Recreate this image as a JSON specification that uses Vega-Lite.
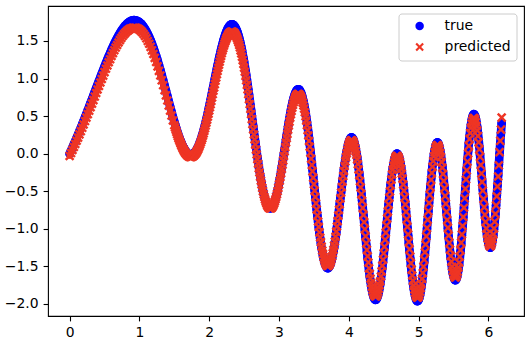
{
"$schema":"https://vega.github.io/schema/vega-lite/v6.json",
"width":476,"height":310,
"autosize":{"type":"none"},
"padding":{"left":48,"top":6,"right":4,"bottom":27},
"data":{"values":[
{"x":0,"t":0,"p":-0.03},{"x":0.02,"t":0.04,"p":0.008},{"x":0.04,"t":0.082,"p":0.049},{"x":0.06,"t":0.124,"p":0.089},{"x":0.08,"t":0.166,"p":0.129},{"x":0.1,"t":0.21,"p":0.172},{"x":0.12,"t":0.254,"p":0.214},{"x":0.14,"t":0.299,"p":0.257},{"x":0.16,"t":0.344,"p":0.3},{"x":0.18,"t":0.39,"p":0.344},
{"x":0.2,"t":0.436,"p":0.389},{"x":0.22,"t":0.483,"p":0.434},{"x":0.24,"t":0.531,"p":0.48},{"x":0.26,"t":0.579,"p":0.526},{"x":0.28,"t":0.627,"p":0.572},{"x":0.3,"t":0.676,"p":0.619},{"x":0.32,"t":0.725,"p":0.666},{"x":0.34,"t":0.774,"p":0.713},{"x":0.36,"t":0.823,"p":0.76},{"x":0.38,"t":0.872,"p":0.807},
{"x":0.4,"t":0.921,"p":0.854},{"x":0.42,"t":0.969,"p":0.9},{"x":0.44,"t":1.018,"p":0.947},{"x":0.46,"t":1.066,"p":0.993},{"x":0.48,"t":1.114,"p":1.039},{"x":0.5,"t":1.161,"p":1.085},{"x":0.52,"t":1.208,"p":1.13},{"x":0.54,"t":1.253,"p":1.173},{"x":0.56,"t":1.298,"p":1.216},{"x":0.58,"t":1.341,"p":1.257},
{"x":0.6,"t":1.384,"p":1.299},{"x":0.62,"t":1.425,"p":1.338},{"x":0.64,"t":1.465,"p":1.376},{"x":0.66,"t":1.502,"p":1.412},{"x":0.68,"t":1.538,"p":1.446},{"x":0.7,"t":1.573,"p":1.48},{"x":0.72,"t":1.605,"p":1.511},{"x":0.74,"t":1.635,"p":1.54},{"x":0.76,"t":1.662,"p":1.566},{"x":0.78,"t":1.687,"p":1.59},
{"x":0.8,"t":1.709,"p":1.611},{"x":0.82,"t":1.728,"p":1.629},{"x":0.84,"t":1.744,"p":1.644},{"x":0.86,"t":1.757,"p":1.657},{"x":0.88,"t":1.767,"p":1.666},{"x":0.9,"t":1.774,"p":1.673},{"x":0.92,"t":1.777,"p":1.676},{"x":0.94,"t":1.776,"p":1.675},{"x":0.96,"t":1.771,"p":1.67},{"x":0.98,"t":1.763,"p":1.662},
{"x":1,"t":1.751,"p":1.651},{"x":1.02,"t":1.734,"p":1.635},{"x":1.04,"t":1.715,"p":1.616},{"x":1.06,"t":1.69,"p":1.592},{"x":1.08,"t":1.662,"p":1.566},{"x":1.1,"t":1.63,"p":1.535},{"x":1.12,"t":1.594,"p":1.5},{"x":1.14,"t":1.554,"p":1.462},{"x":1.16,"t":1.511,"p":1.421},{"x":1.18,"t":1.464,"p":1.375},
{"x":1.2,"t":1.413,"p":1.326},{"x":1.22,"t":1.359,"p":1.275},{"x":1.24,"t":1.302,"p":1.22},{"x":1.26,"t":1.242,"p":1.162},{"x":1.28,"t":1.179,"p":1.102},{"x":1.3,"t":1.115,"p":1.04},{"x":1.32,"t":1.048,"p":0.976},{"x":1.34,"t":0.98,"p":0.911},{"x":1.36,"t":0.91,"p":0.844},{"x":1.38,"t":0.84,"p":0.776},
{"x":1.4,"t":0.769,"p":0.708},{"x":1.42,"t":0.698,"p":0.64},{"x":1.44,"t":0.628,"p":0.573},{"x":1.46,"t":0.559,"p":0.507},{"x":1.48,"t":0.491,"p":0.441},
{"x":1.5,"t":0.426,"p":0.379},{"x":1.51,"t":0.394,"p":0.348},{"x":1.52,"t":0.363,"p":0.318},{"x":1.53,"t":0.333,"p":0.29},{"x":1.54,"t":0.303,"p":0.261},{"x":1.55,"t":0.275,"p":0.234},{"x":1.56,"t":0.247,"p":0.207},{"x":1.57,"t":0.221,"p":0.182},{"x":1.58,"t":0.196,"p":0.158},{"x":1.59,"t":0.172,"p":0.135},
{"x":1.6,"t":0.149,"p":0.113},{"x":1.61,"t":0.127,"p":0.092},{"x":1.62,"t":0.106,"p":0.072},{"x":1.63,"t":0.087,"p":0.054},{"x":1.64,"t":0.07,"p":0.037},{"x":1.65,"t":0.054,"p":0.022},{"x":1.66,"t":0.04,"p":0.008},{"x":1.67,"t":0.027,"p":-0.004},{"x":1.68,"t":0.016,"p":-0.015},{"x":1.69,"t":0.007,"p":-0.023},
{"x":1.7,"t":-0.001,"p":-0.031},{"x":1.71,"t":-0.007,"p":-0.037},{"x":1.72,"t":-0.011,"p":-0.041},{"x":1.73,"t":-0.013,"p":-0.042},{"x":1.74,"t":-0.013,"p":-0.042},{"x":1.75,"t":-0.011,"p":-0.041},{"x":1.76,"t":-0.007,"p":-0.037},{"x":1.77,"t":-0.002,"p":-0.032},{"x":1.78,"t":0.006,"p":-0.024},{"x":1.79,"t":0.016,"p":-0.015},
{"x":1.8,"t":0.027,"p":-0.004},{"x":1.81,"t":0.04,"p":0.008},{"x":1.82,"t":0.056,"p":0.024},{"x":1.83,"t":0.073,"p":0.04},{"x":1.84,"t":0.092,"p":0.058},{"x":1.85,"t":0.114,"p":0.079},{"x":1.86,"t":0.137,"p":0.102},{"x":1.87,"t":0.161,"p":0.125},{"x":1.88,"t":0.189,"p":0.151},{"x":1.89,"t":0.217,"p":0.178},
{"x":1.9,"t":0.247,"p":0.207},{"x":1.91,"t":0.28,"p":0.239},{"x":1.92,"t":0.313,"p":0.27},{"x":1.93,"t":0.348,"p":0.304},{"x":1.94,"t":0.384,"p":0.339},{"x":1.95,"t":0.423,"p":0.376},{"x":1.96,"t":0.462,"p":0.414},{"x":1.97,"t":0.502,"p":0.452},{"x":1.98,"t":0.543,"p":0.491},{"x":1.99,"t":0.586,"p":0.533},
{"x":2,"t":0.63,"p":0.575},{"x":2.01,"t":0.674,"p":0.617},{"x":2.02,"t":0.718,"p":0.659},{"x":2.03,"t":0.763,"p":0.702},{"x":2.04,"t":0.809,"p":0.747},{"x":2.05,"t":0.857,"p":0.793},{"x":2.06,"t":0.903,"p":0.837},{"x":2.07,"t":0.95,"p":0.882},{"x":2.08,"t":0.996,"p":0.926},{"x":2.09,"t":1.043,"p":0.971},
{"x":2.1,"t":1.088,"p":1.014},{"x":2.11,"t":1.133,"p":1.058},{"x":2.12,"t":1.178,"p":1.101},{"x":2.13,"t":1.222,"p":1.143},{"x":2.14,"t":1.265,"p":1.184},{"x":2.15,"t":1.306,"p":1.224},{"x":2.16,"t":1.347,"p":1.263},{"x":2.17,"t":1.386,"p":1.301},{"x":2.18,"t":1.424,"p":1.337},{"x":2.19,"t":1.46,"p":1.372},
{"x":2.2,"t":1.495,"p":1.405},{"x":2.21,"t":1.527,"p":1.436},{"x":2.22,"t":1.557,"p":1.465},{"x":2.23,"t":1.585,"p":1.492},{"x":2.24,"t":1.611,"p":1.517},{"x":2.25,"t":1.635,"p":1.54},{"x":2.26,"t":1.655,"p":1.559},{"x":2.27,"t":1.674,"p":1.577},{"x":2.28,"t":1.689,"p":1.591},{"x":2.29,"t":1.702,"p":1.604},
{"x":2.3,"t":1.711,"p":1.613},{"x":2.31,"t":1.717,"p":1.618},{"x":2.32,"t":1.72,"p":1.621},{"x":2.33,"t":1.72,"p":1.621},{"x":2.34,"t":1.717,"p":1.618},{"x":2.35,"t":1.711,"p":1.613},{"x":2.36,"t":1.702,"p":1.604},{"x":2.37,"t":1.689,"p":1.591},{"x":2.38,"t":1.672,"p":1.575},{"x":2.39,"t":1.652,"p":1.556},
{"x":2.4,"t":1.629,"p":1.534},{"x":2.41,"t":1.602,"p":1.508},{"x":2.42,"t":1.572,"p":1.479},{"x":2.43,"t":1.539,"p":1.447},{"x":2.44,"t":1.503,"p":1.413},{"x":2.45,"t":1.464,"p":1.375},{"x":2.46,"t":1.421,"p":1.334},{"x":2.47,"t":1.375,"p":1.29},{"x":2.48,"t":1.327,"p":1.244},{"x":2.49,"t":1.276,"p":1.195},
{"x":2.5,"t":1.223,"p":1.144},{"x":2.51,"t":1.167,"p":1.09},{"x":2.52,"t":1.109,"p":1.035},{"x":2.53,"t":1.048,"p":0.976},{"x":2.54,"t":0.985,"p":0.916},{"x":2.55,"t":0.921,"p":0.854},{"x":2.56,"t":0.855,"p":0.791},{"x":2.57,"t":0.788,"p":0.726},{"x":2.58,"t":0.719,"p":0.66},{"x":2.59,"t":0.65,"p":0.594},
{"x":2.6,"t":0.58,"p":0.527},{"x":2.61,"t":0.51,"p":0.46},{"x":2.62,"t":0.439,"p":0.391},{"x":2.63,"t":0.368,"p":0.323},{"x":2.64,"t":0.297,"p":0.255},{"x":2.65,"t":0.227,"p":0.188},{"x":2.66,"t":0.157,"p":0.121},{"x":2.67,"t":0.088,"p":0.054},{"x":2.68,"t":0.021,"p":-0.01},{"x":2.69,"t":-0.045,"p":-0.073},
{"x":2.7,"t":-0.108,"p":-0.134},{"x":2.71,"t":-0.17,"p":-0.193},{"x":2.72,"t":-0.23,"p":-0.251},{"x":2.73,"t":-0.288,"p":-0.306},{"x":2.74,"t":-0.343,"p":-0.359},{"x":2.75,"t":-0.394,"p":-0.408},{"x":2.76,"t":-0.443,"p":-0.455},{"x":2.77,"t":-0.488,"p":-0.498},{"x":2.78,"t":-0.53,"p":-0.539},{"x":2.79,"t":-0.569,"p":-0.576},
{"x":2.8,"t":-0.602,"p":-0.608},{"x":2.81,"t":-0.633,"p":-0.638},{"x":2.82,"t":-0.659,"p":-0.663},{"x":2.83,"t":-0.681,"p":-0.684},{"x":2.84,"t":-0.699,"p":-0.701},{"x":2.85,"t":-0.712,"p":-0.714},{"x":2.86,"t":-0.721,"p":-0.722},{"x":2.87,"t":-0.726,"p":-0.727},{"x":2.88,"t":-0.726,"p":-0.727},{"x":2.89,"t":-0.721,"p":-0.722},
{"x":2.9,"t":-0.712,"p":-0.714},{"x":2.91,"t":-0.698,"p":-0.7},{"x":2.92,"t":-0.68,"p":-0.683},{"x":2.93,"t":-0.658,"p":-0.662},{"x":2.94,"t":-0.632,"p":-0.637},{"x":2.95,"t":-0.601,"p":-0.607},{"x":2.96,"t":-0.567,"p":-0.574},{"x":2.97,"t":-0.529,"p":-0.538},{"x":2.98,"t":-0.488,"p":-0.498},{"x":2.99,"t":-0.443,"p":-0.455},
{"x":3,"t":-0.395,"p":-0.409},{"x":3.01,"t":-0.345,"p":-0.361},{"x":3.02,"t":-0.292,"p":-0.31},{"x":3.03,"t":-0.237,"p":-0.258},{"x":3.04,"t":-0.18,"p":-0.203},{"x":3.05,"t":-0.121,"p":-0.146},{"x":3.06,"t":-0.061,"p":-0.089},{"x":3.07,"t":0,"p":-0.03},{"x":3.08,"t":0.062,"p":0.03},{"x":3.09,"t":0.123,"p":0.088},
{"x":3.1,"t":0.185,"p":0.148},{"x":3.11,"t":0.246,"p":0.206},{"x":3.12,"t":0.306,"p":0.264},{"x":3.13,"t":0.364,"p":0.319},{"x":3.14,"t":0.421,"p":0.374},{"x":3.15,"t":0.476,"p":0.427},{"x":3.16,"t":0.529,"p":0.478},{"x":3.17,"t":0.579,"p":0.526},{"x":3.18,"t":0.625,"p":0.57},{"x":3.19,"t":0.669,"p":0.612},
{"x":3.2,"t":0.708,"p":0.65},{"x":3.21,"t":0.744,"p":0.684},{"x":3.22,"t":0.775,"p":0.714},{"x":3.23,"t":0.801,"p":0.739},{"x":3.24,"t":0.823,"p":0.76},{"x":3.25,"t":0.84,"p":0.776},{"x":3.26,"t":0.851,"p":0.787},{"x":3.27,"t":0.857,"p":0.793},{"x":3.28,"t":0.857,"p":0.793},{"x":3.29,"t":0.852,"p":0.788},
{"x":3.3,"t":0.841,"p":0.777},{"x":3.31,"t":0.824,"p":0.761},{"x":3.32,"t":0.802,"p":0.74},{"x":3.33,"t":0.774,"p":0.713},{"x":3.34,"t":0.739,"p":0.679},{"x":3.35,"t":0.7,"p":0.642},{"x":3.36,"t":0.655,"p":0.599},{"x":3.37,"t":0.605,"p":0.551},{"x":3.38,"t":0.55,"p":0.498},{"x":3.39,"t":0.489,"p":0.439},
{"x":3.4,"t":0.425,"p":0.378},{"x":3.41,"t":0.356,"p":0.312},{"x":3.42,"t":0.283,"p":0.242},{"x":3.43,"t":0.207,"p":0.169},{"x":3.44,"t":0.127,"p":0.092},{"x":3.45,"t":0.045,"p":0.013},{"x":3.46,"t":-0.04,"p":-0.068},{"x":3.47,"t":-0.126,"p":-0.151},{"x":3.48,"t":-0.214,"p":-0.235},{"x":3.49,"t":-0.303,"p":-0.321},
{"x":3.5,"t":-0.393,"p":-0.407},{"x":3.51,"t":-0.482,"p":-0.493},{"x":3.52,"t":-0.57,"p":-0.577},{"x":3.53,"t":-0.657,"p":-0.661},{"x":3.54,"t":-0.743,"p":-0.743},{"x":3.55,"t":-0.827,"p":-0.824},{"x":3.56,"t":-0.908,"p":-0.902},{"x":3.57,"t":-0.985,"p":-0.976},{"x":3.58,"t":-1.059,"p":-1.047},{"x":3.59,"t":-1.13,"p":-1.115},
{"x":3.6,"t":-1.195,"p":-1.177},{"x":3.61,"t":-1.255,"p":-1.235},{"x":3.62,"t":-1.31,"p":-1.288},{"x":3.63,"t":-1.359,"p":-1.335},{"x":3.64,"t":-1.403,"p":-1.377},{"x":3.65,"t":-1.439,"p":-1.411},{"x":3.66,"t":-1.47,"p":-1.441},{"x":3.67,"t":-1.494,"p":-1.464},{"x":3.68,"t":-1.511,"p":-1.481},{"x":3.69,"t":-1.521,"p":-1.49},
{"x":3.7,"t":-1.524,"p":-1.493},{"x":3.71,"t":-1.519,"p":-1.488},{"x":3.72,"t":-1.507,"p":-1.477},{"x":3.73,"t":-1.489,"p":-1.459},{"x":3.74,"t":-1.463,"p":-1.434},{"x":3.75,"t":-1.432,"p":-1.405},{"x":3.76,"t":-1.394,"p":-1.368},{"x":3.77,"t":-1.349,"p":-1.325},{"x":3.78,"t":-1.3,"p":-1.278},{"x":3.79,"t":-1.244,"p":-1.224},
{"x":3.8,"t":-1.185,"p":-1.168},{"x":3.81,"t":-1.12,"p":-1.105},{"x":3.82,"t":-1.051,"p":-1.039},{"x":3.83,"t":-0.978,"p":-0.969},{"x":3.84,"t":-0.903,"p":-0.897},{"x":3.85,"t":-0.827,"p":-0.824},{"x":3.86,"t":-0.748,"p":-0.748},{"x":3.87,"t":-0.668,"p":-0.671},{"x":3.88,"t":-0.588,"p":-0.594},{"x":3.89,"t":-0.509,"p":-0.519},
{"x":3.9,"t":-0.43,"p":-0.443},{"x":3.91,"t":-0.353,"p":-0.369},{"x":3.92,"t":-0.279,"p":-0.298},{"x":3.93,"t":-0.207,"p":-0.229},{"x":3.94,"t":-0.139,"p":-0.163},{"x":3.95,"t":-0.076,"p":-0.103},{"x":3.96,"t":-0.017,"p":-0.046},{"x":3.97,"t":0.035,"p":0.004},{"x":3.98,"t":0.082,"p":0.049},{"x":3.99,"t":0.123,"p":0.088},
{"x":4,"t":0.156,"p":0.12},{"x":4.01,"t":0.183,"p":0.146},{"x":4.02,"t":0.202,"p":0.164},{"x":4.03,"t":0.213,"p":0.174},{"x":4.04,"t":0.217,"p":0.178},{"x":4.05,"t":0.211,"p":0.173},{"x":4.06,"t":0.199,"p":0.161},{"x":4.07,"t":0.177,"p":0.14},{"x":4.08,"t":0.147,"p":0.111},{"x":4.09,"t":0.109,"p":0.075},
{"x":4.1,"t":0.064,"p":0.031},{"x":4.11,"t":0.012,"p":-0.018},{"x":4.12,"t":-0.048,"p":-0.076},{"x":4.13,"t":-0.114,"p":-0.139},{"x":4.14,"t":-0.187,"p":-0.21},{"x":4.15,"t":-0.266,"p":-0.285},{"x":4.16,"t":-0.349,"p":-0.365},{"x":4.17,"t":-0.437,"p":-0.45},{"x":4.18,"t":-0.529,"p":-0.538},{"x":4.19,"t":-0.624,"p":-0.629},
{"x":4.2,"t":-0.721,"p":-0.722},{"x":4.21,"t":-0.819,"p":-0.816},{"x":4.22,"t":-0.918,"p":-0.911},{"x":4.23,"t":-1.016,"p":-1.005},{"x":4.24,"t":-1.114,"p":-1.099},{"x":4.25,"t":-1.211,"p":-1.193},{"x":4.26,"t":-1.303,"p":-1.281},{"x":4.27,"t":-1.392,"p":-1.366},{"x":4.28,"t":-1.478,"p":-1.449},{"x":4.29,"t":-1.558,"p":-1.526},
{"x":4.3,"t":-1.633,"p":-1.598},{"x":4.31,"t":-1.7,"p":-1.662},{"x":4.32,"t":-1.76,"p":-1.72},{"x":4.33,"t":-1.812,"p":-1.77},{"x":4.34,"t":-1.856,"p":-1.812},{"x":4.35,"t":-1.893,"p":-1.847},{"x":4.36,"t":-1.919,"p":-1.872},{"x":4.37,"t":-1.937,"p":-1.89},{"x":4.38,"t":-1.945,"p":-1.897},{"x":4.39,"t":-1.943,"p":-1.895},
{"x":4.4,"t":-1.932,"p":-1.885},{"x":4.41,"t":-1.911,"p":-1.865},{"x":4.42,"t":-1.88,"p":-1.835},{"x":4.43,"t":-1.84,"p":-1.796},{"x":4.44,"t":-1.792,"p":-1.75},{"x":4.45,"t":-1.737,"p":-1.698},{"x":4.46,"t":-1.671,"p":-1.634},{"x":4.47,"t":-1.6,"p":-1.566},{"x":4.48,"t":-1.522,"p":-1.491},{"x":4.49,"t":-1.439,"p":-1.411},
{"x":4.5,"t":-1.351,"p":-1.327},{"x":4.51,"t":-1.258,"p":-1.238},{"x":4.52,"t":-1.162,"p":-1.146},{"x":4.53,"t":-1.064,"p":-1.051},{"x":4.54,"t":-0.965,"p":-0.956},{"x":4.55,"t":-0.867,"p":-0.862},{"x":4.56,"t":-0.768,"p":-0.767},{"x":4.57,"t":-0.672,"p":-0.675},{"x":4.58,"t":-0.579,"p":-0.586},{"x":4.59,"t":-0.491,"p":-0.501},
{"x":4.6,"t":-0.407,"p":-0.421},{"x":4.61,"t":-0.328,"p":-0.345},{"x":4.62,"t":-0.256,"p":-0.276},{"x":4.63,"t":-0.192,"p":-0.214},{"x":4.64,"t":-0.136,"p":-0.161},{"x":4.65,"t":-0.09,"p":-0.116},{"x":4.66,"t":-0.051,"p":-0.079},{"x":4.67,"t":-0.023,"p":-0.052},{"x":4.68,"t":-0.006,"p":-0.036},{"x":4.69,"t":0.001,"p":-0.029},
{"x":4.7,"t":-0.004,"p":-0.034},{"x":4.71,"t":-0.018,"p":-0.047},{"x":4.72,"t":-0.043,"p":-0.071},{"x":4.73,"t":-0.079,"p":-0.106},{"x":4.74,"t":-0.124,"p":-0.149},{"x":4.75,"t":-0.179,"p":-0.202},{"x":4.76,"t":-0.243,"p":-0.263},{"x":4.77,"t":-0.315,"p":-0.332},{"x":4.78,"t":-0.396,"p":-0.41},{"x":4.79,"t":-0.482,"p":-0.493},
{"x":4.8,"t":-0.575,"p":-0.582},{"x":4.81,"t":-0.673,"p":-0.676},{"x":4.82,"t":-0.774,"p":-0.773},{"x":4.83,"t":-0.878,"p":-0.873},{"x":4.84,"t":-0.982,"p":-0.973},{"x":4.85,"t":-1.088,"p":-1.074},{"x":4.86,"t":-1.193,"p":-1.175},{"x":4.87,"t":-1.295,"p":-1.273},{"x":4.88,"t":-1.394,"p":-1.368},{"x":4.89,"t":-1.488,"p":-1.458},
{"x":4.9,"t":-1.576,"p":-1.543},{"x":4.91,"t":-1.657,"p":-1.621},{"x":4.92,"t":-1.731,"p":-1.692},{"x":4.93,"t":-1.796,"p":-1.754},{"x":4.94,"t":-1.851,"p":-1.807},{"x":4.95,"t":-1.896,"p":-1.85},{"x":4.96,"t":-1.929,"p":-1.882},{"x":4.97,"t":-1.952,"p":-1.904},{"x":4.98,"t":-1.962,"p":-1.914},{"x":4.99,"t":-1.961,"p":-1.913},
{"x":5,"t":-1.947,"p":-1.899},{"x":5.01,"t":-1.921,"p":-1.874},{"x":5.02,"t":-1.883,"p":-1.838},{"x":5.03,"t":-1.834,"p":-1.791},{"x":5.04,"t":-1.774,"p":-1.733},{"x":5.05,"t":-1.704,"p":-1.666},{"x":5.06,"t":-1.624,"p":-1.589},{"x":5.07,"t":-1.535,"p":-1.504},{"x":5.08,"t":-1.438,"p":-1.41},{"x":5.09,"t":-1.335,"p":-1.312},
{"x":5.1,"t":-1.227,"p":-1.208},{"x":5.11,"t":-1.115,"p":-1.1},{"x":5.12,"t":-1,"p":-0.99},{"x":5.13,"t":-0.883,"p":-0.878},{"x":5.14,"t":-0.767,"p":-0.766},{"x":5.15,"t":-0.652,"p":-0.656},{"x":5.16,"t":-0.54,"p":-0.548},{"x":5.17,"t":-0.433,"p":-0.446},{"x":5.18,"t":-0.331,"p":-0.348},{"x":5.19,"t":-0.236,"p":-0.257},
{"x":5.2,"t":-0.15,"p":-0.174},{"x":5.21,"t":-0.072,"p":-0.099},{"x":5.22,"t":-0.005,"p":-0.035},{"x":5.23,"t":0.05,"p":0.018},{"x":5.24,"t":0.094,"p":0.06},{"x":5.25,"t":0.126,"p":0.091},{"x":5.26,"t":0.144,"p":0.108},{"x":5.27,"t":0.15,"p":0.114},{"x":5.28,"t":0.142,"p":0.106},{"x":5.29,"t":0.121,"p":0.086},
{"x":5.3,"t":0.087,"p":0.054},{"x":5.31,"t":0.041,"p":0.009},{"x":5.32,"t":-0.017,"p":-0.046},{"x":5.33,"t":-0.085,"p":-0.112},{"x":5.34,"t":-0.164,"p":-0.187},{"x":5.35,"t":-0.251,"p":-0.271},{"x":5.36,"t":-0.347,"p":-0.363},{"x":5.37,"t":-0.448,"p":-0.46},{"x":5.38,"t":-0.554,"p":-0.562},{"x":5.39,"t":-0.664,"p":-0.667},
{"x":5.4,"t":-0.775,"p":-0.774},{"x":5.41,"t":-0.887,"p":-0.882},{"x":5.42,"t":-0.997,"p":-0.987},{"x":5.43,"t":-1.103,"p":-1.089},{"x":5.44,"t":-1.205,"p":-1.187},{"x":5.45,"t":-1.301,"p":-1.279},{"x":5.46,"t":-1.388,"p":-1.362},{"x":5.47,"t":-1.467,"p":-1.438},{"x":5.48,"t":-1.535,"p":-1.504},{"x":5.49,"t":-1.591,"p":-1.557},
{"x":5.5,"t":-1.635,"p":-1.6},{"x":5.51,"t":-1.665,"p":-1.628},{"x":5.52,"t":-1.682,"p":-1.645},{"x":5.53,"t":-1.684,"p":-1.647},{"x":5.54,"t":-1.671,"p":-1.634},{"x":5.55,"t":-1.644,"p":-1.608},{"x":5.56,"t":-1.603,"p":-1.569},{"x":5.57,"t":-1.547,"p":-1.515},{"x":5.58,"t":-1.479,"p":-1.45},{"x":5.59,"t":-1.398,"p":-1.372},
{"x":5.6,"t":-1.305,"p":-1.283},{"x":5.61,"t":-1.202,"p":-1.184},{"x":5.62,"t":-1.09,"p":-1.076},{"x":5.63,"t":-0.971,"p":-0.962},{"x":5.64,"t":-0.847,"p":-0.843},{"x":5.65,"t":-0.718,"p":-0.719},{"x":5.66,"t":-0.587,"p":-0.594},{"x":5.67,"t":-0.456,"p":-0.468},{"x":5.68,"t":-0.326,"p":-0.343},{"x":5.69,"t":-0.2,"p":-0.222},
{"x":5.7,"t":-0.079,"p":-0.106},{"x":5.71,"t":0.035,"p":0.004},{"x":5.72,"t":0.14,"p":0.104},{"x":5.73,"t":0.235,"p":0.196},{"x":5.74,"t":0.319,"p":0.276},{"x":5.75,"t":0.389,"p":0.343},{"x":5.76,"t":0.446,"p":0.398},{"x":5.77,"t":0.488,"p":0.438},{"x":5.78,"t":0.515,"p":0.464},{"x":5.79,"t":0.526,"p":0.475},
{"x":5.8,"t":0.521,"p":0.47},{"x":5.81,"t":0.502,"p":0.452},{"x":5.82,"t":0.467,"p":0.418},{"x":5.83,"t":0.416,"p":0.369},{"x":5.84,"t":0.353,"p":0.309},{"x":5.85,"t":0.277,"p":0.236},{"x":5.86,"t":0.189,"p":0.151},{"x":5.87,"t":0.092,"p":0.058},{"x":5.88,"t":-0.013,"p":-0.042},{"x":5.89,"t":-0.125,"p":-0.15},
{"x":5.9,"t":-0.244,"p":-0.264},{"x":5.91,"t":-0.362,"p":-0.378},{"x":5.92,"t":-0.481,"p":-0.492},{"x":5.93,"t":-0.597,"p":-0.603},{"x":5.94,"t":-0.71,"p":-0.712},{"x":5.95,"t":-0.817,"p":-0.814},{"x":5.96,"t":-0.915,"p":-0.908},{"x":5.97,"t":-1.005,"p":-0.995},{"x":5.98,"t":-1.081,"p":-1.068},{"x":5.99,"t":-1.145,"p":-1.129},
{"x":6,"t":-1.196,"p":-1.178},{"x":6.01,"t":-1.23,"p":-1.211},{"x":6.02,"t":-1.248,"p":-1.228},{"x":6.03,"t":-1.25,"p":-1.23},{"x":6.04,"t":-1.234,"p":-1.215},{"x":6.05,"t":-1.201,"p":-1.183},{"x":6.06,"t":-1.152,"p":-1.136},{"x":6.07,"t":-1.087,"p":-1.074},{"x":6.08,"t":-1.006,"p":-0.996},{"x":6.09,"t":-0.911,"p":-0.905},
{"x":6.1,"t":-0.805,"p":-0.803},{"x":6.11,"t":-0.685,"p":-0.688},{"x":6.12,"t":-0.558,"p":-0.566},{"x":6.13,"t":-0.423,"p":-0.436},{"x":6.14,"t":-0.284,"p":-0.303},{"x":6.15,"t":-0.141,"p":-0.155},{"x":6.16,"t":0.002,"p":0.02},{"x":6.17,"t":0.142,"p":0.17},{"x":6.18,"t":0.279,"p":0.32},{"x":6.19,"t":0.409,"p":0.48}
]},
"encoding":{
"x":{"field":"x","type":"quantitative","scale":{"domain":[-0.31,6.51],"nice":false,"zero":false},"axis":{"values":[0,1,2,3,4,5,6],"format":"d","title":null}}
},
"layer":[
{"mark":{"type":"line","color":"#0000ff","strokeWidth":8.6,"strokeCap":"round","strokeJoin":"round"},
 "encoding":{"y":{"field":"t","type":"quantitative","scale":{"domain":[-2.16,1.965],"nice":false,"zero":false},"axis":{"values":[-2,-1.5,-1,-0.5,0,0.5,1,1.5],"format":".1f","title":null}}}},
{"transform":[{"fold":["t"],"as":["key","value"]}],
 "mark":{"type":"point","filled":true,"opacity":1,"size":74,"strokeWidth":0},
 "encoding":{
  "y":{"field":"value","type":"quantitative","scale":{"domain":[-2.16,1.965],"nice":false,"zero":false},"axis":{"values":[-2,-1.5,-1,-0.5,0,0.5,1,1.5],"format":".1f","title":null}},
  "color":{"field":"key","type":"nominal","scale":{"domain":["t","p"],"range":["#0000ff","#ee3524"]},"legend":{"title":null,"orient":"none","legendX":350.5,"legendY":7.5,"labelExpr":"datum.label == 't' ? 'true' : 'predicted'"}},
  "shape":{"field":"key","type":"nominal","scale":{"domain":["t","p"],"range":["circle","M-1,-0.64L-0.64,-1L0,-0.36L0.64,-1L1,-0.64L0.36,0L1,0.64L0.64,1L0,0.36L-0.64,1L-1,0.64L-0.36,0Z"]},"legend":{"title":null,"orient":"none","legendX":350.5,"legendY":7.5,"labelExpr":"datum.label == 't' ? 'true' : 'predicted'"}}
 }},
{"transform":[{"filter":"datum.x <= 1.5"}],
 "mark":{"type":"line","color":"#ee3524","strokeWidth":6,"strokeCap":"round","strokeJoin":"round"},
 "encoding":{"y":{"field":"p","type":"quantitative","scale":{"domain":[-2.16,1.965],"nice":false,"zero":false},"axis":{"values":[-2,-1.5,-1,-0.5,0,0.5,1,1.5],"format":".1f","title":null}}}},
{"transform":[{"fold":["p"],"as":["key","value"]}],
 "mark":{"type":"point","filled":true,"opacity":1,"size":92,"strokeWidth":0},
 "encoding":{
  "y":{"field":"value","type":"quantitative","scale":{"domain":[-2.16,1.965],"nice":false,"zero":false},"axis":{"values":[-2,-1.5,-1,-0.5,0,0.5,1,1.5],"format":".1f","title":null}},
  "color":{"field":"key","type":"nominal","scale":{"domain":["t","p"],"range":["#0000ff","#ee3524"]},"legend":{"title":null,"orient":"none","legendX":350.5,"legendY":7.5,"labelExpr":"datum.label == 't' ? 'true' : 'predicted'"}},
  "shape":{"field":"key","type":"nominal","scale":{"domain":["t","p"],"range":["circle","M-1,-0.64L-0.64,-1L0,-0.36L0.64,-1L1,-0.64L0.36,0L1,0.64L0.64,1L0,0.36L-0.64,1L-1,0.64L-0.36,0Z"]},"legend":{"title":null,"orient":"none","legendX":350.5,"legendY":7.5,"labelExpr":"datum.label == 't' ? 'true' : 'predicted'"}}
 }}
],
"config":{
"view":{"stroke":"#000","strokeWidth":1.1},
"axis":{"domain":false,"grid":false,"tickColor":"#000","tickWidth":1.1,"tickSize":4.9,"labelFont":"DejaVu Sans","labelFontSize":13.9,"labelColor":"#000","labelPadding":5,"labelFlush":false,"labelOverlap":false},
"legend":{"padding":5.6,"rowPadding":6,"symbolOffset":8.6,"labelOffset":18,"symbolSize":72,"symbolStrokeWidth":0,"labelFont":"DejaVu Sans","labelFontSize":13.9,"labelColor":"#000","strokeColor":"#cccccc","fillColor":"rgba(255,255,255,0.8)","cornerRadius":3}
}
}
